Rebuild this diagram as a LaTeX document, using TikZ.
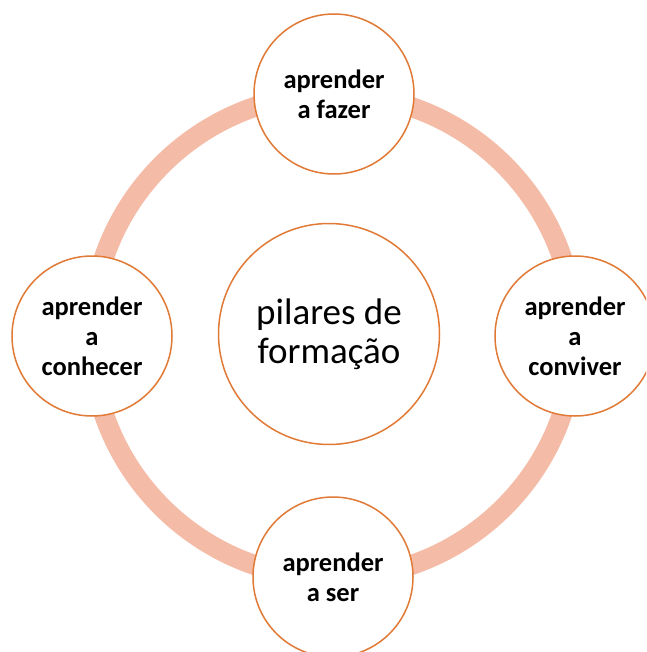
\documentclass[tikz,border=0pt]{standalone}
\usepackage{fontspec}
\setmainfont{Carlito}
\definecolor{anel}{HTML}{F4BCA7}
\definecolor{borda}{HTML}{E07A36}
\begin{document}
\begin{tikzpicture}[x=1pt,y=-1pt,
    pilar/.style={circle,draw=borda,line width=1.5pt,fill=white,minimum size=160pt,inner sep=0pt,
      align=center,font=\fontsize{26.5}{30}\selectfont\bfseries},
    centro/.style={circle,draw=borda,line width=1.5pt,fill=white,minimum size=221pt,inner sep=0pt,
      align=center,font=\fontsize{37}{39}\selectfont}]
        \clip (0,0) rectangle (646,652);
        \fill[white] (0,0) rectangle (646,652);
        \draw[anel,line width=20pt] (333,336) circle[radius=242pt];
        \draw (329,334) node[centro](pilares){pilares de\\formação};
        \draw (334,94) node[pilar](fazer){aprender\\a fazer};
        \draw (92,336) node[pilar](conhecer){aprender\\a\\conhecer};
        \draw (575,336) node[pilar](conviver){aprender\\a\\conviver};
        \draw (333,577) node[pilar](ser){aprender\\a ser};
\end{tikzpicture}
\end{document}
